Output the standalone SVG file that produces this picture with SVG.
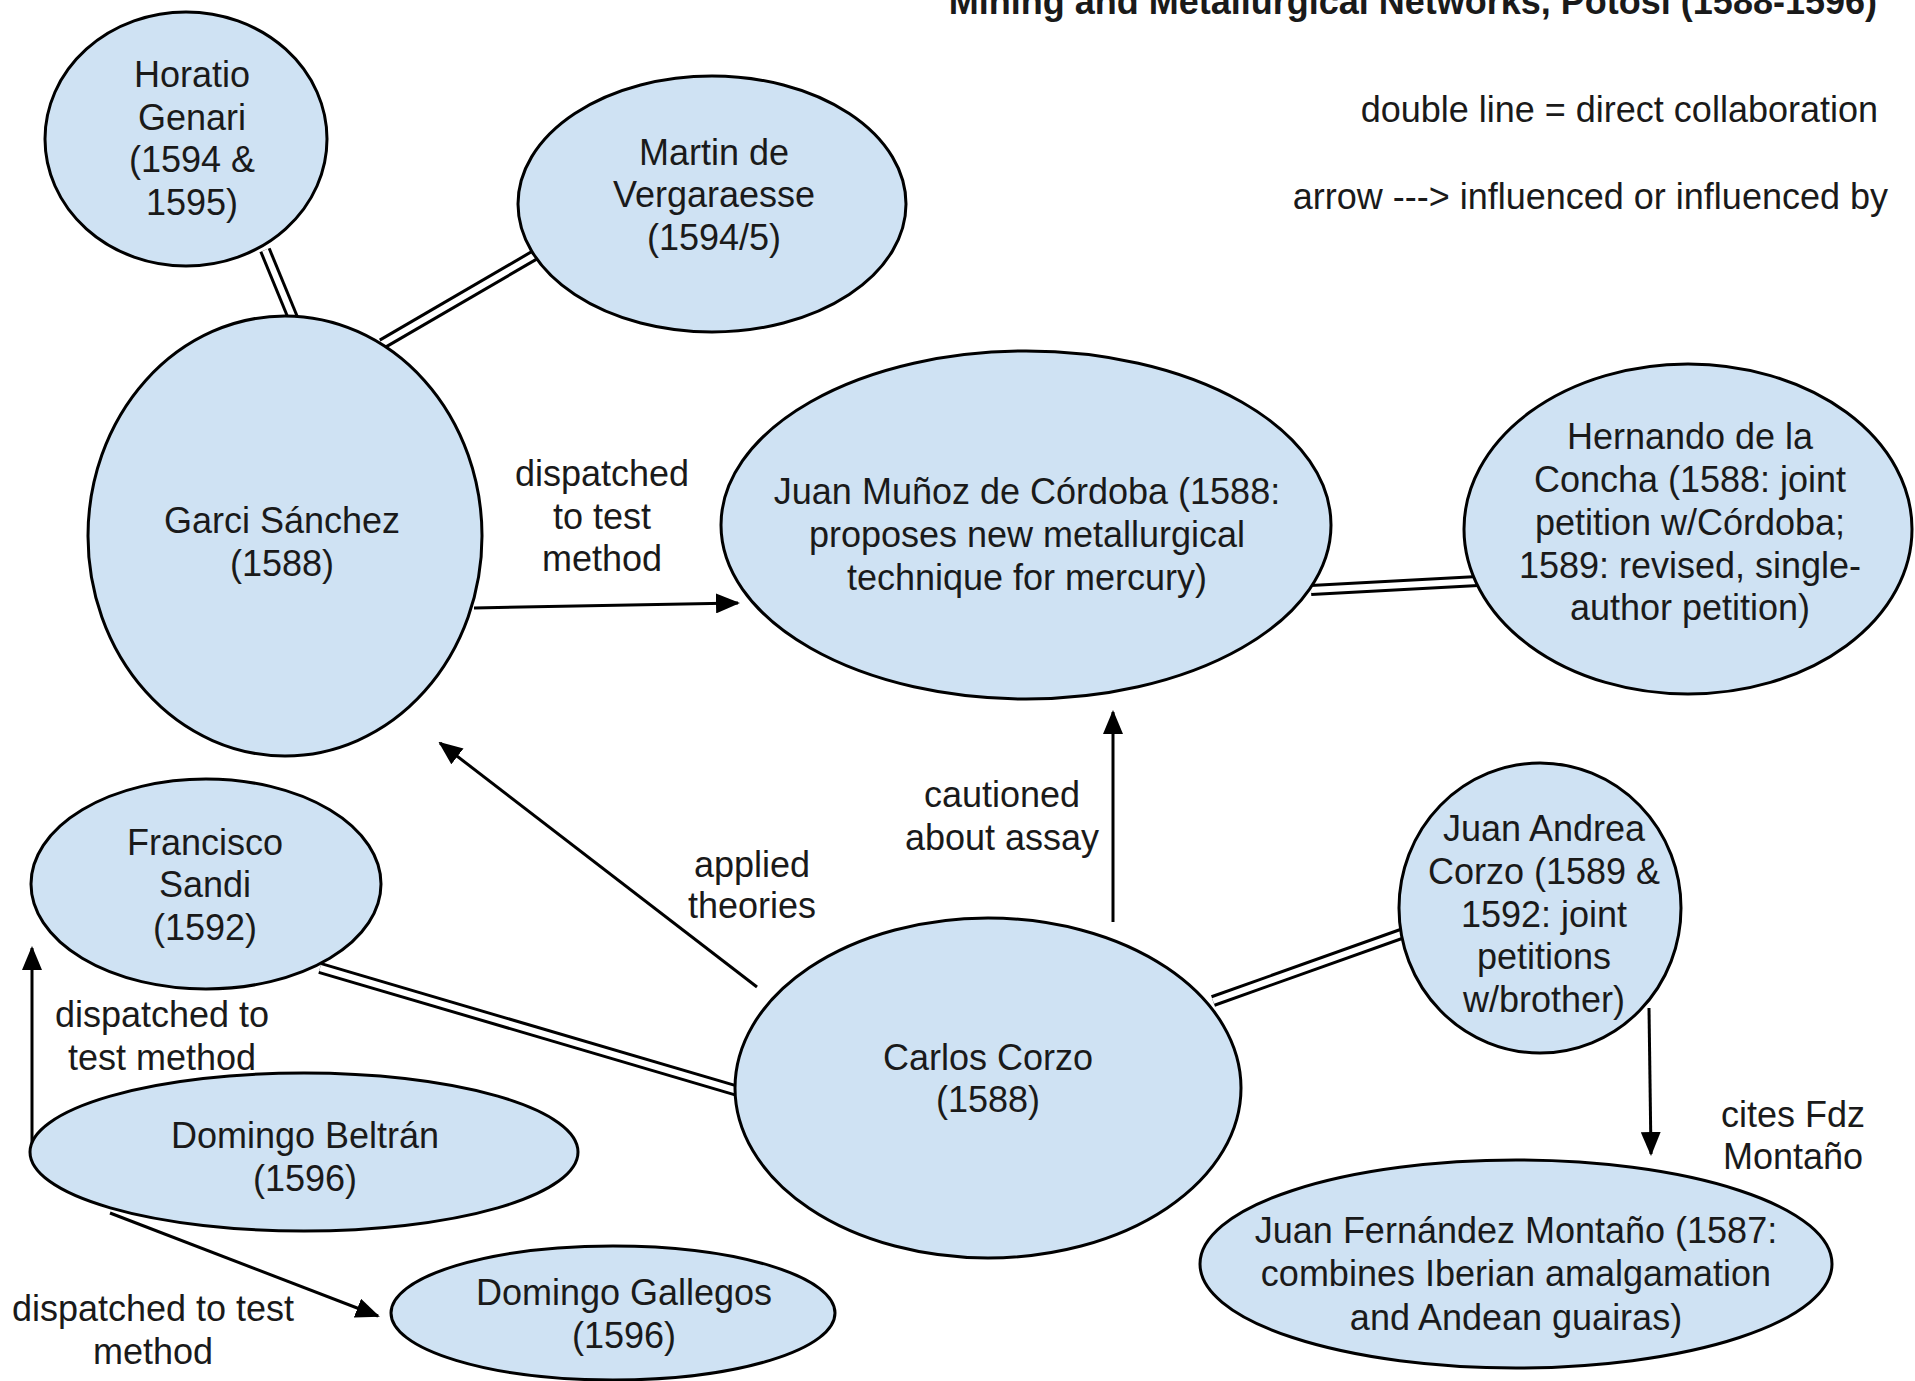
<svg xmlns="http://www.w3.org/2000/svg" width="1915" height="1381" viewBox="0 0 1915 1381">
<style>
.n{fill:#cfe2f3;stroke:#000;stroke-width:3}
text{font-family:"Liberation Sans",Arial,sans-serif;font-size:36px;fill:#1a1a1a;text-anchor:middle}
.t{font-weight:bold;text-anchor:end}
.r{text-anchor:end}
.dbo{stroke:#000;stroke-width:12;fill:none}
.dbi{stroke:#fff;stroke-width:6;fill:none}
.ar{stroke:#000;stroke-width:3;fill:none;marker-end:url(#ah)}
</style>
<defs>
<marker id="ah" markerUnits="userSpaceOnUse" markerWidth="24" markerHeight="20" refX="22" refY="10" orient="auto">
<path d="M0,0 L24,10 L0,20 Z" fill="#000"/>
</marker>
</defs>
<rect width="1915" height="1381" fill="#fff"/>
<text class="t" x="1877" y="14">Mining and Metallurgical Networks, Potosí (1588-1596)</text>
<text class="r" x="1878" y="122">double line = direct collaboration</text>
<text class="r" x="1888" y="209">arrow ---&gt; influenced or influenced by</text>

<g id="connectors">
<g id="c-horatio-garci"><line class="dbo" x1="265" y1="250" x2="293" y2="318"/><line class="dbi" x1="265" y1="250" x2="293" y2="318"/></g>
<g id="c-martin-garci"><line class="dbo" x1="382" y1="344" x2="540" y2="252"/><line class="dbi" x1="382" y1="344" x2="540" y2="252"/></g>
<g id="c-munoz-hernando"><line class="dbo" x1="1311" y1="590" x2="1478" y2="581"/><line class="dbi" x1="1311" y1="590" x2="1478" y2="581"/></g>
<g id="c-sandi-carlos"><line class="dbo" x1="320" y1="968" x2="738" y2="1091"/><line class="dbi" x1="320" y1="968" x2="738" y2="1091"/></g>
<g id="c-carlos-andrea"><line class="dbo" x1="1213" y1="1001" x2="1404" y2="933"/><line class="dbi" x1="1213" y1="1001" x2="1404" y2="933"/></g>
<line id="a-garci-munoz" class="ar" x1="474" y1="608" x2="738" y2="603"/>
<line id="a-carlos-munoz" class="ar" x1="1113" y1="922" x2="1113" y2="712"/>
<line id="a-carlos-garci" class="ar" x1="757" y1="987" x2="440" y2="743"/>
<line id="a-beltran-sandi" class="ar" x1="32" y1="1154" x2="32" y2="948"/>
<line id="a-beltran-gallegos" class="ar" x1="110" y1="1213" x2="378" y2="1316"/>
<line id="a-andrea-montano" class="ar" x1="1649" y1="1008" x2="1651" y2="1154"/>
</g>

<g id="labels">
<text x="602" y="486">dispatched</text><text x="602" y="529">to test</text><text x="602" y="571">method</text>
<text x="1002" y="807">cautioned</text><text x="1002" y="850">about assay</text>
<text x="752" y="877">applied</text><text x="752" y="918">theories</text>
<text x="162" y="1027">dispatched to</text><text x="162" y="1070">test method</text>
<text x="153" y="1321">dispatched to test</text><text x="153" y="1364">method</text>
<text x="1793" y="1127">cites Fdz</text><text x="1793" y="1169">Montaño</text>
</g>

<g id="n-horatio"><ellipse class="n" cx="186" cy="139" rx="141" ry="127"/>
<text x="192" y="87">Horatio</text><text x="192" y="130">Genari</text><text x="192" y="172">(1594 &amp;</text><text x="192" y="215">1595)</text></g>
<g id="n-martin"><ellipse class="n" cx="712" cy="204" rx="194" ry="128"/>
<text x="714" y="165">Martin de</text><text x="714" y="207">Vergaraesse</text><text x="714" y="250">(1594/5)</text></g>
<g id="n-garci"><ellipse class="n" cx="285" cy="536" rx="197" ry="220"/>
<text x="282" y="533">Garci Sánchez</text><text x="282" y="576">(1588)</text></g>
<g id="n-munoz"><ellipse class="n" cx="1026" cy="525" rx="305" ry="174"/>
<text x="1027" y="504">Juan Muñoz de Córdoba (1588:</text><text x="1027" y="547">proposes new metallurgical</text><text x="1027" y="590">technique for mercury)</text></g>
<g id="n-hernando"><ellipse class="n" cx="1688" cy="529" rx="224" ry="165"/>
<text x="1690" y="449">Hernando de la</text><text x="1690" y="492">Concha (1588: joint</text><text x="1690" y="535">petition w/Córdoba;</text><text x="1690" y="578">1589: revised, single-</text><text x="1690" y="620">author petition)</text></g>
<g id="n-sandi"><ellipse class="n" cx="206" cy="884" rx="175" ry="105"/>
<text x="205" y="855">Francisco</text><text x="205" y="897">Sandi</text><text x="205" y="940">(1592)</text></g>
<g id="n-beltran"><ellipse class="n" cx="304" cy="1152" rx="274" ry="79"/>
<text x="305" y="1148">Domingo Beltrán</text><text x="305" y="1191">(1596)</text></g>
<g id="n-gallegos"><ellipse class="n" cx="613" cy="1313" rx="222" ry="67"/>
<text x="624" y="1305">Domingo Gallegos</text><text x="624" y="1348">(1596)</text></g>
<g id="n-carlos"><ellipse class="n" cx="988" cy="1088" rx="253" ry="170"/>
<text x="988" y="1070">Carlos Corzo</text><text x="988" y="1112">(1588)</text></g>
<g id="n-andrea"><ellipse class="n" cx="1540" cy="908" rx="141" ry="145"/>
<text x="1544" y="841">Juan Andrea</text><text x="1544" y="884">Corzo (1589 &amp;</text><text x="1544" y="927">1592: joint</text><text x="1544" y="969">petitions</text><text x="1544" y="1012">w/brother)</text></g>
<g id="n-montano"><ellipse class="n" cx="1516" cy="1264" rx="316" ry="104"/>
<text x="1516" y="1243">Juan Fernández Montaño (1587:</text><text x="1516" y="1286">combines Iberian amalgamation</text><text x="1516" y="1330">and Andean guairas)</text></g>
</svg>
